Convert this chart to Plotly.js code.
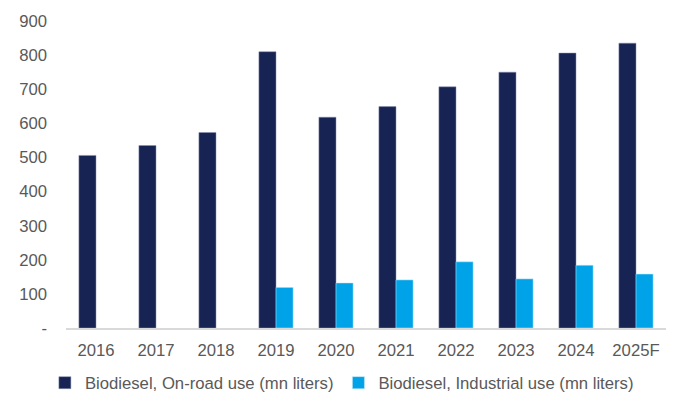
<!DOCTYPE html>
<html><head><meta charset="utf-8">
<script src="https://cdn.plot.ly/plotly-3.0.1.min.js"></script>
<style>html,body{margin:0;padding:0;background:#fff}#chart{width:677px;height:400px}</style>
</head><body><div id="chart"></div>
<script>
const years = ["2016","2017","2018","2019","2020","2021","2022","2023","2024","2025F"];
const onRoad = [506, 535, 573, 810, 618, 649, 707, 750, 806, 835];
const industrial = [null, null, null, 119, 132, 141, 194, 144, 184, 158];
const yTickVals = [0,100,200,300,400,500,600,700,800,900];
const yTickText = ["-","100","200","300","400","500","600","700","800","900"];

const fontFam = "Arial, 'Liberation Sans', sans-serif";
const data = [
  {type:"bar", name:"Biodiesel, On-road use (mn liters)", x:years, y:onRoad,
   marker:{color:"#172353", line:{color:"#8a93b0", width:0.5}}},
  {type:"bar", name:"Biodiesel, Industrial use (mn liters)", x:years, y:industrial,
   marker:{color:"#00A3E8", line:{color:"#bfe6f8", width:0.5}}}
];
const layout = {
  width:677, height:400,
  margin:{l:66, r:11, t:21, b:72},
  paper_bgcolor:"#fff", plot_bgcolor:"#fff",
  font:{family:fontFam, size:16.7, color:"#595959"},
  barmode:"group", bargap:0.43, bargroupgap:0,
  showlegend:true,
  legend:{orientation:"h", x:0.505, xanchor:"center", xref:"container", yref:"container", y:0.043, yanchor:"middle",
    font:{size:16.7, color:"#595959"}, itemwidth:30, traceorder:"normal"},
  xaxis:{type:"category", showline:true, linecolor:"#d9d9d9", linewidth:1.5, ticks:"", showgrid:false,
    tickfont:{size:16.7, color:"#595959"}, ticklabelstandoff:6},
  yaxis:{range:[0,900], tickvals:yTickVals, ticktext:yTickText, showgrid:false, zeroline:false, showline:false,
    ticks:"", tickfont:{size:16.7, color:"#595959"}, ticklabelstandoff:18}
};
Plotly.newPlot("chart", data, layout, {displayModeBar:false, staticPlot:true});
</script></body></html>
